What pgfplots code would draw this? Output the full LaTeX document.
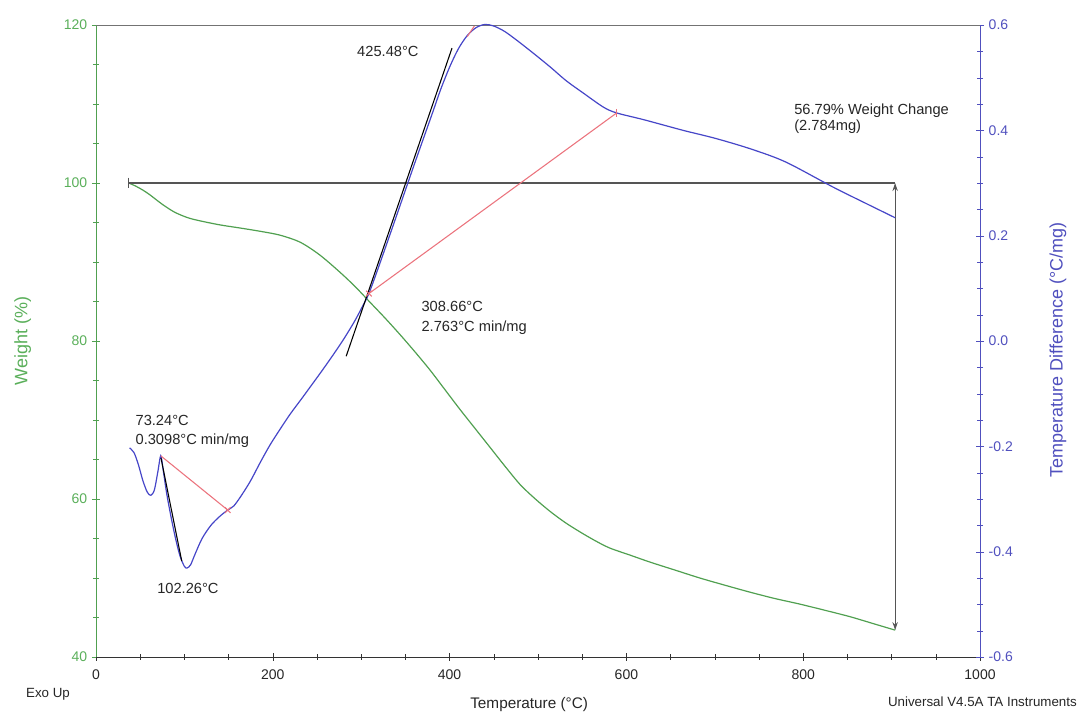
\documentclass[border=0pt]{standalone}
\usepackage{fontspec}
\setmainfont{Liberation Sans}
\usepackage{pgfplots}
\pgfplotsset{compat=1.18}
\usetikzlibrary{arrows.meta}
\definecolor{wgreen}{RGB}{80,160,80}
\definecolor{tgreen}{RGB}{90,175,90}
\definecolor{dblue}{RGB}{70,70,200}
\definecolor{tblue}{RGB}{80,80,190}
\definecolor{rred}{RGB}{235,115,125}
\definecolor{lgray}{RGB}{85,85,85}
\begin{document}
\begin{tikzpicture}
\pgfplotsset{
  common/.style={
    scale only axis, width=663pt, height=474pt,
    xmin=0, xmax=1000,
    tick align=center,
    major tick length=6pt, minor tick length=4.5pt,
    minor x tick num=3, minor y tick num=3,
    /pgf/number format/assume math mode=true,
    /pgf/number format/1000 sep={},
    tick label style={font=\fontsize{10.5}{12}\selectfont},
    clip=false,
  }
}
\begin{axis}[common,
  ymin=40, ymax=120,
  axis x line*=bottom, axis y line*=left,
  xtick={0,200,...,1000},
  ytick={40,60,...,120},
  x axis line style={black!80},
  y axis line style={wgreen},
  ytick style={wgreen}, xtick style={black!80},
  yticklabel style={text=tgreen},
  xticklabel style={text=black!85, yshift=-3pt},
  every axis x label/.style={at={(axis description cs:0.49,0)}, anchor=center, yshift=-36pt, font=\fontsize{11.5}{13}\selectfont, text=black!85},
  xlabel={Temperature (°C)},
  every axis y label/.style={at={(axis description cs:0,0.5)}, rotate=90, anchor=center, yshift=55pt, font=\fontsize{13.5}{15}\selectfont, text=tgreen},
  ylabel={Weight (\%)},
]
% weight curve
\addplot[wgreen, line width=0.9pt, smooth] coordinates {
(37,100) (45,99.6) (53,99.1) (61,98.5) (75,97.3) (89,96.3) (104,95.6) (118,95.2)
(140,94.7) (163,94.3) (185,93.9) (208,93.4) (231,92.5) (253,90.9) (276,88.7)
(293,86.9) (310,84.9) (327,82.9) (344,80.8) (361,78.6) (378,76.3) (395,73.8)
(412,71.3) (429,68.9) (446,66.5) (463,64.1) (480,61.8) (497,60.0) (514,58.4)
(531,57.0) (548,55.8) (565,54.7) (581,53.8) (604,52.9) (627,52.0) (655,51.0)
(683,50.0) (711,49.1) (740,48.2) (768,47.4) (796,46.7) (825,45.9) (853,45.1)
(880,44.2) (904,43.4)};
% weight change bracket
\addplot[lgray, line width=0.9pt] coordinates {(37,100) (904,100)};
\addplot[lgray, line width=0.9pt, mark=|, mark size=4pt, mark options={line width=1pt}] coordinates {(37,100)};
\addplot[lgray, line width=0.9pt, {Stealth[length=6pt,width=4pt]}-{Stealth[length=6pt,width=4pt]}] coordinates {(904,43.4) (904,100)};
% annotations
\node[anchor=west, inner sep=0pt, font=\fontsize{11}{12}\selectfont, text=black!85] at (axis cs:295.2,116.6) {425.48°C};
\node[anchor=north west, inner sep=0pt, align=left, font=\fontsize{11}{15}\selectfont, text=black!85] at (axis cs:368,85.0) {308.66°C\\2.763°C min/mg};
\node[anchor=north west, inner sep=0pt, align=left, font=\fontsize{11}{12}\selectfont, text=black!85] at (axis cs:789.6,110.0) {56.79\% Weight Change\\(2.784mg)};
\node[anchor=north west, inner sep=0pt, align=left, font=\fontsize{11}{14.25}\selectfont, text=black!85] at (axis cs:44.5,70.6) {73.24°C\\0.3098°C min/mg};
\node[anchor=center, inner sep=0pt, font=\fontsize{11}{12}\selectfont, text=black!85] at (axis cs:104,48.7) {102.26°C};
\end{axis}
\begin{axis}[common,
  ymin=-0.6, ymax=0.6,
  axis x line*=top, axis y line*=right,
  xtick=\empty,
  ytick={-0.6,-0.4,...,0.6},
  x axis line style={black!55},
  y axis line style={tblue},
  ytick style={tblue},
  yticklabel style={text=tblue, /pgf/number format/.cd, fixed, fixed zerofill, precision=1},
  every axis y label/.style={at={(axis description cs:1,0.486)}, rotate=90, anchor=center, yshift=-58.5pt, font=\fontsize{13.5}{15}\selectfont, text=tblue},
  ylabel={Temperature Difference (°C/mg)},
]
% DTA curve
\addplot[dblue, line width=0.9pt, smooth] coordinates {
(38,-0.203) (43,-0.212) (48,-0.235) (53,-0.265) (58,-0.287) (62,-0.293) (66,-0.283)
(70,-0.248) (73.24,-0.218) (76,-0.245) (80,-0.290) (85,-0.335) (90,-0.375)
(95,-0.408) (100,-0.428) (103,-0.431) (107,-0.425) (112,-0.405) (120,-0.375)
(130,-0.350) (140,-0.333) (149,-0.321) (156,-0.313) (165,-0.292) (175,-0.265)
(186,-0.230) (197,-0.197) (210,-0.163) (220,-0.138) (232,-0.111) (242,-0.088)
(255,-0.058) (268,-0.027) (280,0.003) (292,0.036) (300,0.061) (308.66,0.090)
(320,0.142) (340,0.238) (360,0.335) (380,0.430) (390,0.478) (400,0.520)
(410,0.555) (420,0.580) (430,0.595) (440,0.601) (450,0.598) (462,0.588)
(476,0.571) (495,0.546) (514,0.520) (532,0.494) (551,0.471) (574,0.444)
(589,0.433) (620,0.420) (664,0.400) (700,0.385) (740,0.365) (780,0.340)
(834,0.292) (870,0.262) (904,0.234)};
% tangents (black)
\addplot[black, line width=0.8pt] coordinates {(283,-0.029) (402.7,0.556)};
\addplot[black, line width=0.8pt] coordinates {(73.5,-0.222) (97,-0.418)};
% baselines (red)
\addplot[rred, line width=0.8pt] coordinates {(73.24,-0.218) (149,-0.321)};
\addplot[rred, line width=0.8pt] coordinates {(308.66,0.090) (589,0.433)};
\addplot[rred, line width=0.8pt, only marks, mark=x, mark size=3pt] coordinates {(149,-0.321) (308.66,0.090)};
\addplot[rred, line width=0.8pt] coordinates {(420,0.578) (428,0.598)};
\addplot[rred, line width=0.6pt, only marks, mark=|, mark size=3pt] coordinates {(589,0.433)};
\end{axis}
\node[anchor=center, font=\fontsize{10}{12}\selectfont, text=black!85] at (-36pt,-28pt) {Exo Up};
\node[anchor=east, inner sep=0pt, font=\fontsize{10}{12}\selectfont, text=black!85] at (735.75pt,-33.75pt) {Universal V4.5A TA Instruments};
\pgfresetboundingbox
\useasboundingbox (-72pt,-44.25pt) rectangle (736.5pt,492.75pt);
\end{tikzpicture}
\end{document}
